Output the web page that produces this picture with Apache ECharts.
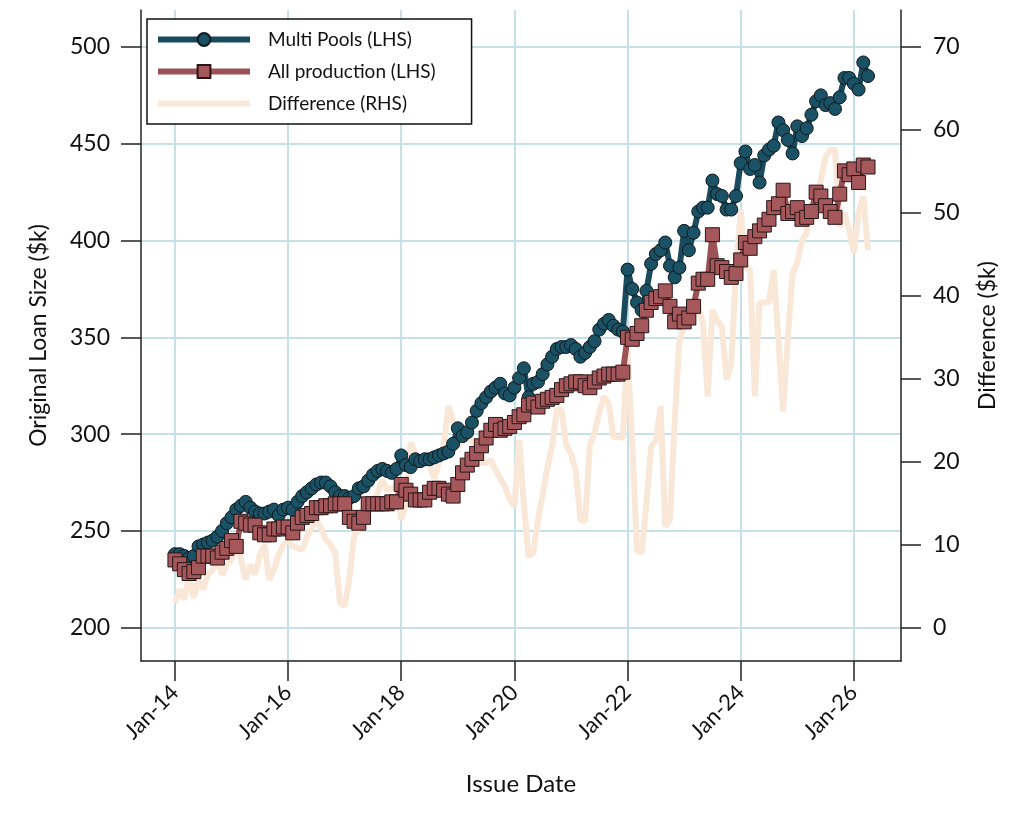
<!DOCTYPE html>
<html>
<head>
<meta charset="utf-8">
<script src="https://cdn.jsdelivr.net/npm/echarts@6/dist/echarts.min.js"></script>
<style>
html,body{margin:0;padding:0;background:#fff}
#chart{width:1024px;height:819px}
</style>
</head>
<body>
<div id="chart"></div>
<script>
// monthly, Jan-14 .. Apr-26 (index 0 = Jan-14)
var multiPools = [
	238,238,237,236,237,242,243,244,245,247,250,254,
	257,261,263,265,262,260,259,259,260,261,258,261,
	262,261,265,268,270,272,274,275,275,273,270,268,
	268,267,268,272,273,276,279,281,282,281,280,282,
	289,284,283,287,286,287,287,288,289,290,291,295,
	303,299,301,306,312,316,319,322,324,326,321,320,
	324,329,334,319,326,327,331,336,340,344,345,345,
	346,344,340,342,345,348,354,357,359,356,354,353,
	385,375,368,364,374,388,393,395,399,387,381,386,
	405,395,404,415,417,417,431,424,423,416,416,423,
	440,446,437,439,430,444,447,449,461,457,452,445,
	459,454,458,465,472,475,470,471,468,474,484,484,
	481,478,492,485
];
var allProduction = [
	235,233,230,228,229,231,237,237,237,236,239,241,
	245,242,255,254,253,253,249,248,248,251,251,252,
	252,249,254,257,258,259,262,262,263,263,264,264,
	264,257,255,254,257,264,264,264,264,264,265,265,
	274,271,269,266,266,266,270,272,272,271,269,268,
	274,280,284,287,290,294,298,302,305,302,303,304,
	306,309,310,315,316,314,317,318,319,320,323,325,
	326,327,327,325,324,327,329,330,331,331,331,332,
	350,349,352,356,364,368,370,371,374,366,358,362,
	358,360,366,378,380,380,403,387,386,384,381,383,
	390,399,396,402,405,408,411,417,419,426,414,415,
	417,411,412,415,425,423,418,415,412,424,436,434,
	437,430,439,438
];
var difference = [
	3,4.6,3.4,6.4,3.6,5.8,4.6,6.4,7,8.2,6.4,7.6,
	8.2,10,8.2,5.8,7.6,6.4,8.8,10,5.8,7,8.8,10,
	10.6,9.8,9.6,9.4,11,12,13,12,10.6,10,9,3,
	2.6,6,11,12,12.5,13.9,15,16.3,17.8,16.6,16.8,17,
	13,15,22.3,21,19.9,20.6,19.5,18,20,22,26.7,25,
	21.8,22.5,23.5,22.5,21.8,19.9,19.9,20.2,19,18,17,15.5,
	14.6,22.6,15,8.6,9,13,16,19.4,21.8,26.3,26.3,22,
	21,19,13,12.8,22,23.5,26,27.9,27,23,23,22.9,
	33.5,22,9.4,9,15,21.8,22.6,26.7,12.2,13,25,34.7,
	36.3,37,38.5,38.7,36.7,27.9,38.3,37,36.3,29.9,31.9,43.1,
	50.4,43.5,43.1,27.9,39.2,39.2,39.2,43.1,34.7,26.1,35,42.7,
	44,46.7,47.6,51.2,50.8,54,56.8,57.6,57.6,48.3,50,48,
	45.2,50,52,45.5
];
var xTickPos = [0, 24, 48, 72, 96, 120, 144];
var xTickLabels = ['Jan-14','Jan-16','Jan-18','Jan-20','Jan-22','Jan-24','Jan-26'];
var leftTicks = [200, 250, 300, 350, 400, 450, 500];
var rightTicks = [0, 10, 20, 30, 40, 50, 60, 70];

function pairs(arr){
	return arr.map(function(v, i){ return [i, v]; });
}

var chart = echarts.init(document.getElementById('chart'));
var font = 'Lato, "Open Sans", sans-serif';
var gridColor = '#c6e0e8';
var axisLine = {show: true, onZero: false, lineStyle: {color: '#222', width: 1.5}};

function ticks(vals){
	return {show: true, inside: false, length: 20, customValues: vals, lineStyle: {color: '#222', width: 1.5}};
}

option = {
	backgroundColor: '#fff',
	animation: false,
	textStyle: {fontFamily: font},
	grid: {left: 141, right: 123, top: 10, bottom: 158, containLabel: false},
	legend: {
		orient: 'vertical',
		left: 147,
		top: 19,
		backgroundColor: '#fff',
		borderColor: '#111',
		borderWidth: 1.5,
		borderRadius: 0,
		padding: [11, 36, 11, 8],
		itemWidth: 92,
		itemHeight: 16,
		itemGap: 13,
		lineStyle: {width: 6},
		textStyle: {fontFamily: font, fontSize: 19, color: '#111', padding: [0, 0, 0, 13]},
		data: [
			{name: 'Multi Pools (LHS)'},
			{name: 'All production (LHS)'},
			{name: 'Difference (RHS)', itemStyle: {opacity: 0}}
		]
	},
	xAxis: {
		type: 'value',
		min: -7.2,
		max: 154,
		name: 'Issue Date',
		nameLocation: 'middle',
		nameGap: 111,
		nameTextStyle: {fontSize: 24, color: '#111', fontFamily: font},
		axisLine: axisLine,
		axisTick: ticks(xTickPos),
		axisLabel: {
			customValues: xTickPos,
			rotate: 45,
			fontSize: 22,
			color: '#111',
			margin: 28,
			formatter: function(v){ return xTickLabels[xTickPos.indexOf(v)] || ''; }
		},
		splitLine: {show: true, customValues: xTickPos, lineStyle: {color: gridColor, width: 2}}
	},
	yAxis: [{
		type: 'value',
		position: 'left',
		min: 182.8,
		max: 519.1,
		name: 'Original Loan Size ($k)',
		nameLocation: 'middle',
		nameGap: 91,
		nameTextStyle: {fontSize: 23, color: '#111', fontFamily: font},
		axisLine: axisLine,
		axisTick: ticks(leftTicks),
		axisLabel: {customValues: leftTicks, fontSize: 23, color: '#111', margin: 31},
		splitLine: {show: true, customValues: leftTicks, lineStyle: {color: gridColor, width: 2}}
	}, {
		type: 'value',
		position: 'right',
		min: -4.01,
		max: 74.46,
		name: 'Difference ($k)',
		nameLocation: 'middle',
		nameGap: 75,
		nameTextStyle: {fontSize: 23, color: '#111', fontFamily: font},
		axisLine: axisLine,
		axisTick: ticks(rightTicks),
		axisLabel: {customValues: rightTicks, fontSize: 23, color: '#111', margin: 32},
		splitLine: {show: false}
	}],
	series: [
	{
		name: 'Difference (RHS)',
		type: 'line',
		yAxisIndex: 1,
		symbol: 'none',
		z: 1,
		lineStyle: {color: '#f9e7d8', width: 6},
		itemStyle: {color: '#f9e7d8'},
		data: pairs(difference)
	},
	{
		name: 'Multi Pools (LHS)',
		type: 'line',
		yAxisIndex: 0,
		symbol: 'circle',
		symbolSize: 13,
		z: 2,
		lineStyle: {color: '#1a4b5d', width: 6},
		itemStyle: {color: '#1b5165', borderColor: '#0d1a1f', borderWidth: 1},
		data: pairs(multiPools)
	},
	{
		name: 'All production (LHS)',
		type: 'line',
		yAxisIndex: 0,
		symbol: 'rect',
		symbolSize: 14,
		z: 3,
		lineStyle: {color: '#9c5155', width: 6},
		itemStyle: {color: '#a5585b', borderColor: '#2a1516', borderWidth: 1},
		data: pairs(allProduction)
	}
	]
};

chart.setOption(option);
</script>
</body>
</html>
